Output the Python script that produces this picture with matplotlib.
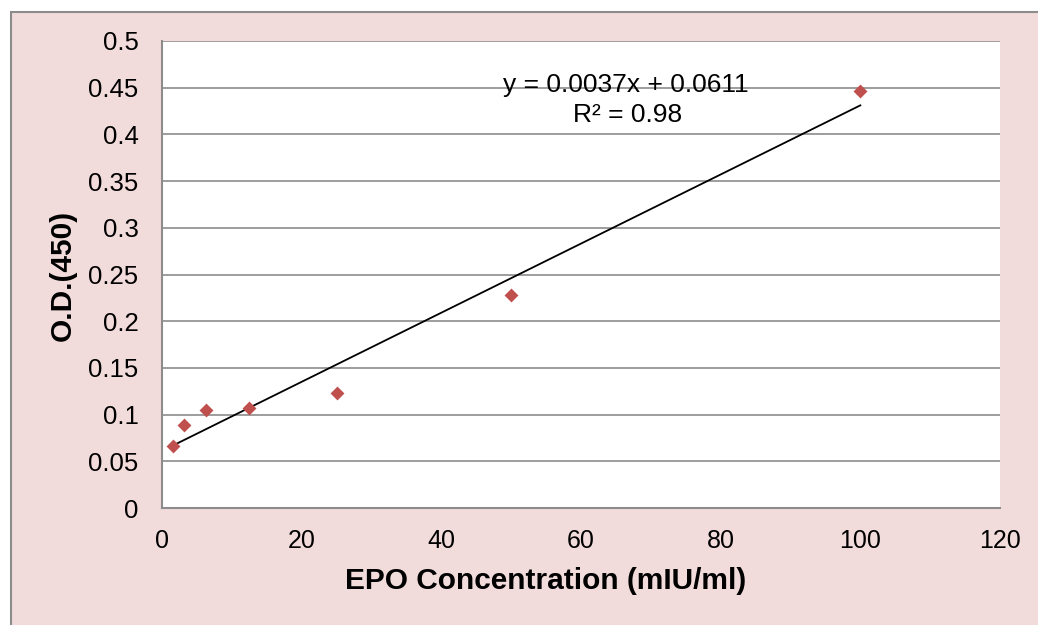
import matplotlib
matplotlib.use("Agg")
import matplotlib.pyplot as plt
from matplotlib.patches import Rectangle
import numpy as np

plt.rcParams['font.family'] = ['Liberation Sans', 'DejaVu Sans']

conc = [1.5625, 3.125, 6.25, 12.5, 25, 50, 100]
od = [0.066, 0.089, 0.105, 0.107, 0.123, 0.228, 0.446]
slope = 0.0037
intercept = 0.0611
eq_text = "y = 0.0037x + 0.0611"
r2_text = "R² = 0.98"
xticks = [0, 20, 40, 60, 80, 100, 120]
yticks = [0, 0.05, 0.1, 0.15, 0.2, 0.25, 0.3, 0.35, 0.4, 0.45, 0.5]
yticklabels = ["0", "0.05", "0.1", "0.15", "0.2", "0.25", "0.3", "0.35", "0.4", "0.45", "0.5"]

W, H = 1038, 625
fig = plt.figure(figsize=(W/100, H/100), dpi=100)
fig.patch.set_facecolor('white')
fig.patches.append(Rectangle((11/W, -0.01), 1.02 - 11/W, 1 - 12/H + 0.01,
                             transform=fig.transFigure, facecolor='#F2DCDB',
                             edgecolor='#8C8C8C', linewidth=1.5, zorder=-5))

ax = fig.add_axes([162/W, 1 - 508/H, (1000-162)/W, (508-41)/H])
ax.set_zorder(1)
ax.set_facecolor('white')
ax.set_xlim(0, 120)
ax.set_ylim(0, 0.5)
ax.set_xticks(xticks)
ax.set_yticks(yticks)
ax.set_yticklabels(yticklabels)
ax.tick_params(axis='x', length=0, labelsize=18, pad=15)
ax.tick_params(axis='y', length=0, labelsize=18.5, pad=17)
ax.grid(axis='y', color='#8C8C8C', linewidth=1.2)
ax.set_axisbelow(True)
for s in ['top', 'right']:
    ax.spines[s].set_visible(False)
for s in ['left', 'bottom']:
    ax.spines[s].set_color('#8C8C8C')
    ax.spines[s].set_linewidth(1.5)

xl = np.array([conc[0], conc[-1]])
ax.plot(xl, slope*xl + intercept, color='black', linewidth=1.3, zorder=2)
ax.scatter(conc, od, marker='D', s=50, color='#C0504D', zorder=3, linewidths=0)

ax.text(66.4, 0.453, eq_text, ha='center', va='center', fontsize=19)
ax.text(66.6, 0.421, r2_text, ha='center', va='center', fontsize=19)

ax.set_xlabel("EPO Concentration (mIU/ml)", fontsize=21.5, fontweight='bold')
ax.set_ylabel("O.D.(450)", fontsize=21.5, fontweight='bold')
ax.xaxis.label.set_va('center')
ax.yaxis.label.set_va('center')
ax.xaxis.set_label_coords(0.458, -0.156)
ax.yaxis.set_label_coords(-0.118, 0.498)

fig.savefig("out.png", dpi=100)
